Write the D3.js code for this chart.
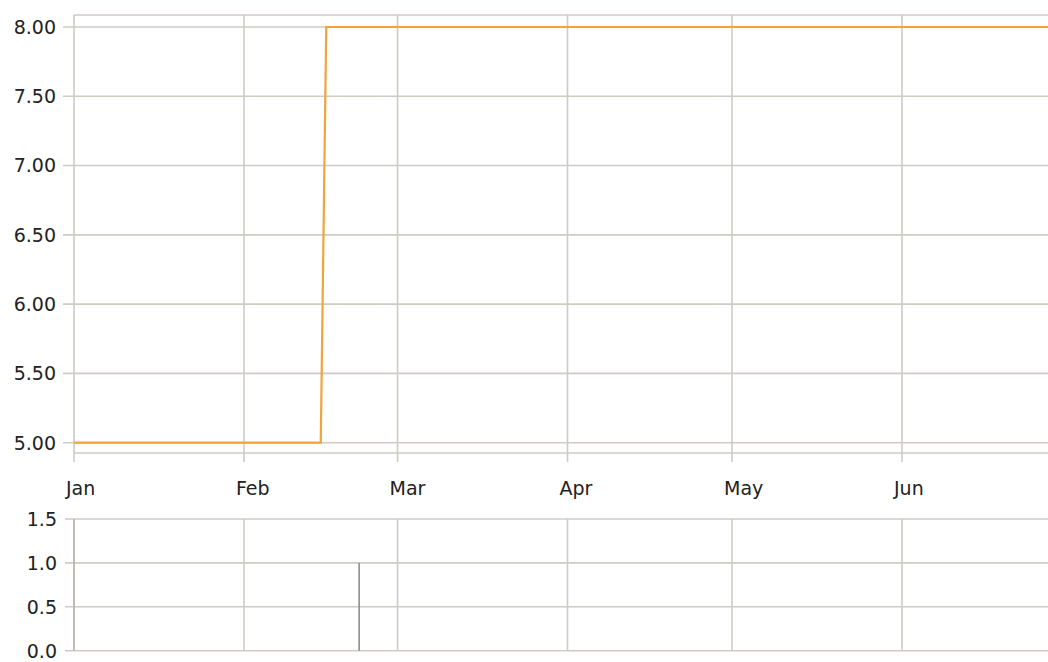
<!DOCTYPE html>
<html>
<head>
<meta charset="utf-8">
<script src="https://cdn.jsdelivr.net/npm/d3@7"></script>
<style>
  html, body { margin: 0; padding: 0; background: #ffffff; }
  svg { display: block; }
  text { font-family: "DejaVu Sans", sans-serif; font-size: 19px; fill: #222; }
</style>
</head>
<body>
<script>
// ---- data ----
const lineDates  = ["2009-01-01", "2009-02-15", "2009-02-16", "2009-06-30"];
const lineValues = [5.0, 5.0, 8.0, 8.0];
const barDates   = ["2009-02-22"];
const barValues  = [1.0];
const topTicks   = [5.00, 5.50, 6.00, 6.50, 7.00, 7.50, 8.00];
const bottomTicks = [0.0, 0.5, 1.0, 1.5];
const monthLabels = ["Jan", "Feb", "Mar", "Apr", "May", "Jun"];

(function () {
const W = 1048, H = 662;
const parse = d3.timeParse("%Y-%m-%d");
const gridColor = "#cfcbc3";

const svg = d3.select("body").append("svg").attr("width", W).attr("height", H);

const x = d3.scaleTime()
  .domain([new Date(2009, 0, 1), new Date(2009, 5, 27, 15)])
  .range([74, 1048]);

const monthTicks = d3.timeMonth.range(new Date(2009, 0, 1), new Date(2009, 6, 1));

// ---- top panel ----
const yTop = d3.scaleLinear().domain([4.9257, 8.0866]).range([453, 15]);

const gTop = svg.append("g");
gTop.append("defs").append("clipPath").attr("id", "clipTop")
  .append("rect").attr("x", 74).attr("y", 0).attr("width", W - 74).attr("height", 460);

gTop.selectAll("line.hg").data(topTicks).enter().append("line")
  .attr("x1", 63).attr("x2", W)
  .attr("y1", d => yTop(d)).attr("y2", d => yTop(d))
  .attr("stroke", gridColor).attr("stroke-width", 1.6);
[yTop.range()[1], yTop.range()[0]].forEach(yy => {
  gTop.append("line").attr("x1", 74).attr("x2", W).attr("y1", yy).attr("y2", yy)
    .attr("stroke", gridColor).attr("stroke-width", 1.6);
});
gTop.selectAll("line.vg").data(monthTicks).enter().append("line")
  .attr("x1", d => x(d)).attr("x2", d => x(d))
  .attr("y1", 15).attr("y2", 462)
  .attr("stroke", gridColor).attr("stroke-width", 1.6);

gTop.selectAll("text.yl").data(topTicks).enter().append("text")
  .attr("x", 56).attr("y", d => yTop(d)).attr("dy", "0.36em")
  .attr("text-anchor", "end")
  .text(d3.format(".2f"));

gTop.selectAll("text.xl").data(monthTicks).enter().append("text")
  .attr("x", d => x(d) - 8).attr("y", 495)
  .attr("text-anchor", "start")
  .text((d, i) => monthLabels[i]);

const lineData = lineDates.map((d, i) => ({ date: parse(d), value: lineValues[i] }));
gTop.append("path").datum(lineData)
  .attr("clip-path", "url(#clipTop)")
  .attr("fill", "none").attr("stroke", "#f2a33a").attr("stroke-width", 2.2)
  .attr("d", d3.line().x(d => x(d.date)).y(d => yTop(d.value)));

// ---- bottom panel ----
const yBot = d3.scaleLinear().domain([0, 1.5]).range([650.7, 519]);
const gBot = svg.append("g");

gBot.selectAll("line.hg").data(bottomTicks).enter().append("line")
  .attr("x1", 65).attr("x2", W)
  .attr("y1", d => yBot(d)).attr("y2", d => yBot(d))
  .attr("stroke", gridColor).attr("stroke-width", 1.6);
gBot.selectAll("line.vg").data(monthTicks).enter().append("line")
  .attr("x1", d => x(d)).attr("x2", d => x(d))
  .attr("y1", 519).attr("y2", 650.7)
  .attr("stroke", gridColor).attr("stroke-width", 1.6);
gBot.append("line").attr("x1", 74).attr("x2", 74).attr("y1", 519).attr("y2", 650.7)
  .attr("stroke", "#bcb3a8").attr("stroke-width", 1.6);

gBot.selectAll("text.yl").data(bottomTicks).enter().append("text")
  .attr("x", 57).attr("y", d => yBot(d)).attr("dy", "0.36em")
  .attr("text-anchor", "end")
  .text(d3.format(".1f"));

const barData = barDates.map((d, i) => ({ date: parse(d), value: barValues[i] }));
gBot.selectAll("line.bar").data(barData).enter().append("line")
  .attr("x1", d => x(d.date)).attr("x2", d => x(d.date))
  .attr("y1", d => yBot(d.value)).attr("y2", yBot(0))
  .attr("stroke", "#8e8e8e").attr("stroke-width", 1.6);
})();
</script>
</body>
</html>
